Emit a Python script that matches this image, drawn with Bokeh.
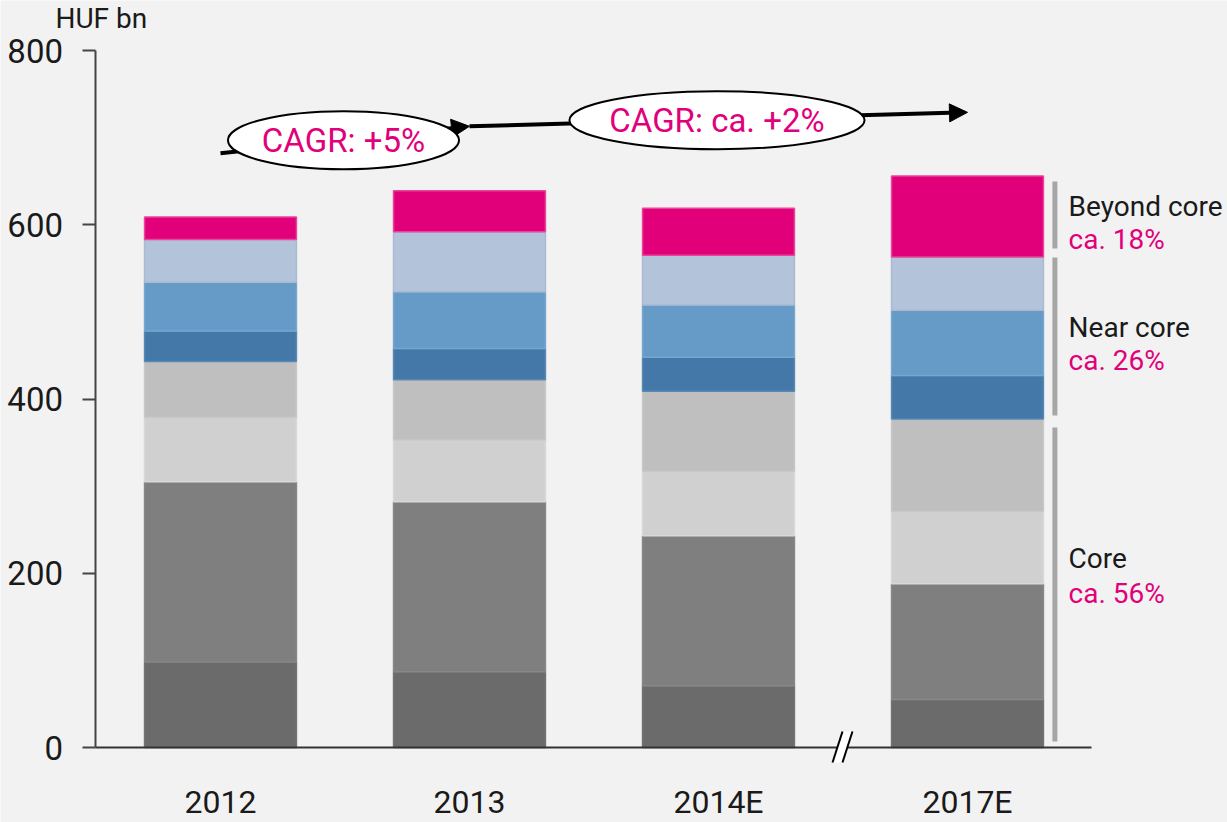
from bokeh.plotting import figure
from bokeh.models import FixedTicker, Arrow, NormalHead
from bokeh.core.properties import value
from bokeh.embed import file_html
from bokeh.resources import INLINE

# ---- data ----
categories = ["2012", "2013", "2014E", "2017E"]
x_pos = [0, 1, 2, 3]
core_a = [98, 87, 71, 55]        # dark grey
core_b = [207, 195, 172, 133]    # mid grey
core_c = [74, 71, 74, 83]        # light grey
core_d = [64, 69, 92, 106]       # grey
near_a = [35, 36, 39, 50]        # dark blue
near_b = [56, 65, 60, 75]        # mid blue
near_c = [49, 69, 57, 61]        # light blue
beyond = [26, 47, 54, 93]        # magenta
y_ticks = [0, 200, 400, 600, 800]

series_names = ["core_a", "core_b", "core_c", "core_d", "near_a", "near_b", "near_c", "beyond"]
series_colors = ["#6b6b6b", "#7f7f7f", "#d0d0d0", "#bfbfbf", "#4378a9", "#659bc6", "#b3c3da", "#e2007a"]
series_lines = ["#737373", "#878787", "#d8d8d8", "#c8c8c8", "#5a88b4", "#76a7cf", "#a8bad4", "#e8449a"]

cagr_text = ["CAGR: +5%", "CAGR: ca. +2%"]
cagr_x = [0.494, 1.994]
cagr_y = [697, 720]
cagr_w = [0.928, 1.185]
cagr_h = [66.6, 66.6]
arrow_pts = [(0, 682, 1, 713), (1, 713, 3, 729)]

group_names = ["Beyond core", "Near core", "Core"]
group_share = ["ca. 18%", "ca. 26%", "ca. 56%"]
group_lo = [572.7, 381, 6.9]
group_hi = [649.6, 562.4, 367.3]
group_name_y = [621.5, 482.1, 217.5]
group_share_y = [582.5, 444.2, 177.3]

unit_label = "HUF bn"

FONT = "Roboto"
MAGENTA = "#e2007a"
BG = "#f2f2f2"
TXT = "#1a1a1a"

p = figure(width=1227, height=822, x_range=(-0.8835, 4.0442), y_range=(-86.08, 857.39),
           output_backend="svg", toolbar_location=None,
           min_border_left=0, min_border_right=0, min_border_top=0, min_border_bottom=0)
p.background_fill_color = BG
p.border_fill_color = BG
p.outline_line_color = None
p.xgrid.visible = False
p.ygrid.visible = False

data = dict(core_a=core_a, core_b=core_b, core_c=core_c, core_d=core_d,
            near_a=near_a, near_b=near_b, near_c=near_c, beyond=beyond)
bottom = [0] * 4
for name, fc, lc in zip(series_names, series_colors, series_lines):
    vals = data[name]
    top = [b + v for b, v in zip(bottom, vals)]
    p.vbar(x=x_pos, bottom=bottom, top=top, width=0.61, fill_color=fc,
           line_color=lc, line_width=1.5)
    bottom = top

# axes (inside the frame, at fixed locations)
p.xaxis.fixed_location = 0
p.xaxis.bounds = (-0.5, 3.5)
p.xaxis.ticker = FixedTicker(ticks=x_pos)
p.xaxis.major_label_overrides = {i: c for i, c in zip(x_pos, categories)}
p.xaxis.major_tick_out = 0
p.xaxis.major_tick_in = 0
p.xaxis.minor_tick_out = 0
p.xaxis.minor_tick_in = 0
p.xaxis.axis_line_width = 2
p.xaxis.axis_line_color = "#333333"
p.xaxis.major_label_text_font = FONT
p.xaxis.major_label_text_font_size = "32px"
p.xaxis.major_label_text_color = TXT
p.xaxis.major_label_standoff = 35

p.yaxis.fixed_location = -0.5
p.yaxis.bounds = (0, 800)
p.yaxis.ticker = FixedTicker(ticks=y_ticks)
p.yaxis.major_tick_out = 13
p.yaxis.major_tick_in = 0
p.yaxis.minor_tick_out = 0
p.yaxis.minor_tick_in = 0
p.yaxis.axis_line_width = 2
p.yaxis.axis_line_color = "#444444"
p.yaxis.major_tick_line_width = 2
p.yaxis.major_tick_line_color = "#444444"
p.yaxis.major_label_text_font = FONT
p.yaxis.major_label_text_font_size = "33px"
p.yaxis.major_label_text_color = TXT
p.yaxis.major_label_standoff = 20

p.text(x=[-0.6627], y=[836.7], text=[unit_label], text_font=value(FONT), text_font_size="28px",
       text_color=TXT, text_baseline="middle", text_align="left")

# CAGR arrows
for (x0, y0, x1, y1) in arrow_pts:
    p.add_layout(Arrow(x_start=x0, y_start=y0, x_end=x1, y_end=y1, line_width=4, line_color="black",
                       end=NormalHead(size=18, fill_color="black", line_color="black", line_width=1)))

p.ellipse(x=cagr_x, y=cagr_y, width=cagr_w, height=cagr_h, fill_color="white",
          line_color="black", line_width=2, level="overlay")
p.text(x=cagr_x, y=cagr_y, text=cagr_text, text_font=value(FONT), text_font_size="33px",
       text_color=MAGENTA, text_align="center", text_baseline="middle", level="overlay")

# group brackets and labels
bx = 3.351
p.segment(x0=[bx] * 3, y0=group_lo, x1=[bx] * 3, y1=group_hi, line_color="#a6a6a6", line_width=5)
p.text(x=[3.406] * 3, y=group_name_y, text=group_names, text_font=value(FONT), text_font_size="28px",
       text_color=TXT, text_baseline="middle", text_align="left")
p.text(x=[3.406] * 3, y=group_share_y, text=group_share, text_font=value(FONT), text_font_size="28px",
       text_color=MAGENTA, text_baseline="middle", text_align="left")

# axis break marks
p.patch(x=[2.458, 2.498, 2.538, 2.498], y=[-17.2, 18.4, 18.4, -17.2],
        fill_color="white", line_alpha=0, level="overlay")
p.segment(x0=[2.458, 2.498], y0=[-17.2, -17.2], x1=[2.498, 2.538], y1=[18.4, 18.4],
          line_width=2, line_color="black", level="overlay")

open("out.html", "w").write(file_html(p, INLINE))
